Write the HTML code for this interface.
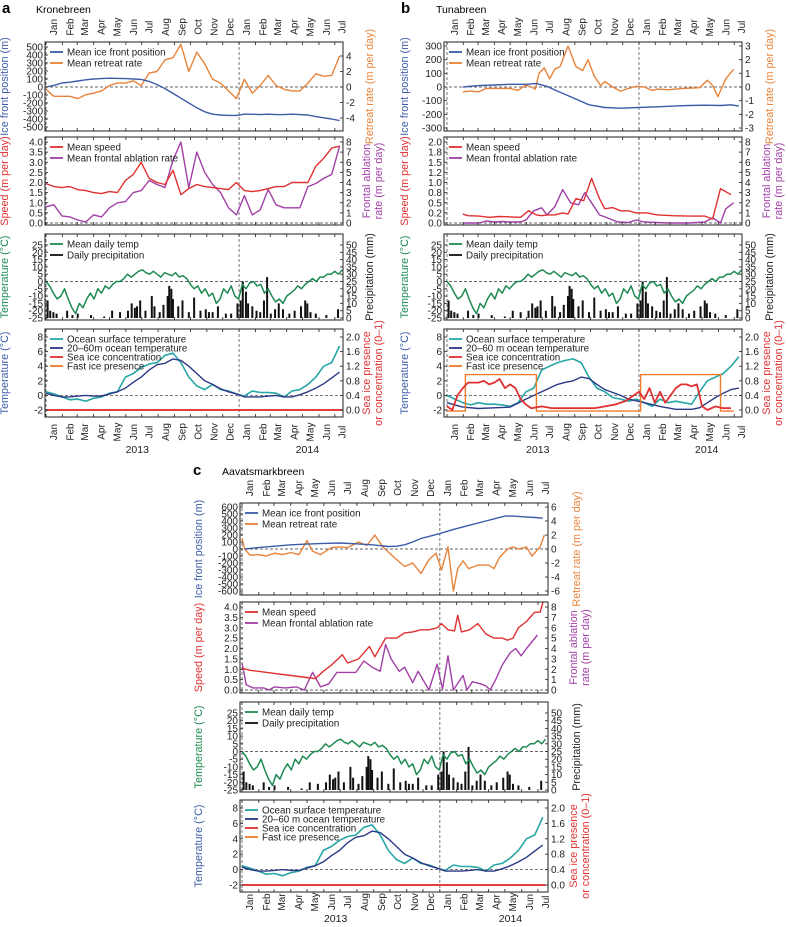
<!DOCTYPE html>
<html><head><meta charset="utf-8"><style>
html,body{margin:0;padding:0;background:#fff;}
svg{display:block;font-family:"Liberation Sans",sans-serif;}
</style></head><body>
<svg id="fig" width="788" height="927" viewBox="0 0 788 927" xmlns="http://www.w3.org/2000/svg"></svg>
<script>
const months=['Jan','Feb','Mar','Apr','May','Jun','Jul','Aug','Sep','Oct','Nov','Dec','Jan','Feb','Mar','Apr','May','Jun','Jul'];
const monthStarts=[0,31,59,90,120,151,181,212,243,273,304,334,365,396,424,455,485,516,546];
const years=['2013','2014'];
const G15=[0,15,30,45,60,75,90,105,120,135,150,165,180,195,210,225,240,255,270,285,300,315,330,345,360,375,390,405,420,435,450,465,480,495,510,525,540,555];
const W7=[0,7,14,21,28,35,42,49,56,63,70,77,84,91,98,105,112,119,126,133,140,147,154,161,168,175,182,189,196,203,210,217,224,231,238,245,252,259,266,273,280,287,294,301,308,315,322,329,336,343,350,357,364,371,378,385,392,399,406,413,420,427,434,441,448,455,462,469,476,483,490,497,504,511,518,525,532,539,546,553,560];
// Kronebreen
const kroFront=[0,20,50,60,75,90,100,105,110,108,105,100,95,70,30,-20,-80,-140,-200,-260,-310,-340,-350,-355,-355,-340,-340,-345,-340,-345,-345,-340,-345,-350,-370,-385,-400,-420];
const kroRetreat=[-0.3,-1.2,-1.2,-1.2,-1.5,-1.0,-0.8,-0.5,0.2,0.5,0.5,0.8,0.2,1.8,2.0,3.5,3.8,5.5,2.0,4.5,3.0,1.0,0.5,-0.5,-1.5,1.0,-0.8,0.2,1.5,0.2,-0.3,-0.5,-0.5,0.5,1.7,1.4,1.5,4.0];
const kroSpeed=[1.95,1.8,1.75,1.8,1.65,1.6,1.5,1.45,1.55,1.5,2.1,2.4,3.0,2.2,2.0,1.9,2.6,1.4,1.7,1.9,1.8,1.75,1.7,1.65,2.0,1.6,1.55,1.6,1.7,1.8,1.8,2.0,2.0,2.0,2.8,3.2,3.7,3.8];
const kroAblation=[1.6,1.8,0.7,0.6,0.3,0.1,0.8,0.6,1.5,2.0,2.1,3.0,3.2,4.2,3.8,3.5,6.2,8.0,3.5,7.0,5.0,3.8,3.0,1.5,0.8,2.7,0.8,1.3,3.3,1.8,1.5,1.5,1.5,3.6,3.9,4.4,4.8,7.6];
// shared weather
const airTemp=[0,-3,-8,-12,-10,-5,-12,-18,-22,-15,-18,-12,-8,-12,-5,-8,-3,-5,-2,0,0,2,5,3,5,7,8,6,5,7,5,3,6,5,4,6,3,4,2,-2,-5,-3,-8,-5,-10,-8,-15,-12,-5,-8,-3,-10,-12,-2,-5,-1,0,-3,-2,-8,-5,-10,-14,-12,-15,-10,-8,-6,-3,-5,-2,0,2,0,3,3,5,5,7,5,8];
const precipDays=[3,8,14,20,40,50,60,85,110,125,140,155,162,168,172,178,188,200,205,215,222,230,233,237,240,250,258,270,280,292,302,308,315,325,340,350,362,368,372,378,382,390,398,405,412,418,425,433,440,448,460,470,482,490,494,500,510,530,552];
const precipVals=[12,5,4,3,5,2,3,2,1,5,4,5,10,7,8,12,5,15,8,4,9,15,22,20,13,8,12,4,14,5,6,4,4,8,3,3,10,12,25,18,10,8,5,4,12,28,3,6,10,6,3,5,8,12,10,4,3,2,6];
// ocean (a & c)
const oceanSurf=[0.5,0.2,-0.2,-0.6,-0.5,-0.8,-0.4,-0.2,0.3,0.5,2.5,3,3.8,4.3,4.5,5.5,5.8,4.5,2.5,1.3,0.8,1.5,0.8,0.6,0.2,-0.1,0.6,0.4,0.4,0.3,-0.2,0.6,0.8,1.5,2.5,4,4.5,6.8];
const oceanDeep=[0.3,0,-0.2,-0.2,-0.1,0,-0.1,-0.1,0.2,0.5,1.0,1.8,2.5,3.5,4.2,4.4,5.0,4.8,4.0,3.0,2.0,1.5,0.9,0.5,0.2,-0.2,-0.2,-0.2,-0.1,0,-0.2,-0.2,0.1,0.5,1.0,1.6,2.4,3.2];
const seaIceDays=[0,560];
const seaIceVals=[0,0];
// Tunabreen
const tunFrontDays=[30,60,90,120,150,170,190,210,240,270,300,330,365,400,430,460,490,520,540,555];
const tunFront=[0,10,15,20,20,25,5,-30,-80,-130,-150,-155,-150,-145,-140,-135,-133,-135,-130,-140];
const tunRetDays=[30,45,60,75,90,105,120,135,150,160,168,175,185,195,205,215,230,245,258,268,280,292,300,315,330,345,360,375,390,400,420,450,480,495,505,515,530,545];
const tunRetreat=[-0.35,-0.3,-0.35,-0.1,-0.1,-0.1,-0.1,-0.25,0.15,0,-0.15,1.0,1.4,0.6,1.3,1.5,3.0,1.5,1.2,2.0,0.8,0.1,0.4,0,-0.3,-0.1,0.05,0,-0.25,-0.15,-0.2,-0.1,-0.05,0.5,0.1,-0.7,0.6,1.3];
const tunSpeedDays=[30,40,60,80,100,120,140,155,170,180,190,205,220,230,245,260,275,290,300,315,330,345,360,380,400,430,460,490,505,520,540];
const tunSpeed=[0.22,0.18,0.17,0.14,0.16,0.15,0.14,0.3,0.2,0.18,0.2,0.2,0.25,0.22,0.6,0.55,1.1,0.6,0.35,0.38,0.3,0.3,0.25,0.25,0.2,0.18,0.17,0.17,0.1,0.85,0.7];
const tunAblDays=[30,60,75,90,105,120,140,150,165,180,190,205,220,235,250,262,275,290,305,325,345,360,375,420,460,490,505,520,530,545];
const tunAblation=[0,0,0.2,0.1,0.15,0.1,0.1,0.3,1.2,1.5,0.8,1.6,3.3,2.0,1.8,3.0,2.0,0.8,0.5,0.1,0.05,0.3,0.1,0,0,0.1,0.5,0,1.4,2.0];
const tunSurf=[0,-0.5,-1.0,-1.3,-1.0,-1.2,-1.2,-1.3,-1.5,-1.0,0.5,1.0,3.5,4,4.5,4.8,5,4.5,2.5,1.0,0.5,-0.3,-0.5,-0.8,-0.5,-1.0,-1.5,-0.5,-1.0,-0.8,-1.0,-1.2,0.5,2.0,2.5,3,4,5.3];
const tunDeepDays=[0,15,30,60,90,120,150,180,210,225,240,255,270,285,300,330,345,375,405,435,465,480,495,510,525,540,555];
const tunDeep=[-1.0,-1.3,-1.6,-1.8,-1.7,-1.6,-0.5,0.5,1.5,1.8,2.0,2.5,2.3,1.5,0.8,0,-0.5,-1.0,-1.5,-1.9,-1.9,-1.7,-1.0,-0.3,0.3,0.8,1.0];
const tunIceDays=[0,10,20,30,40,50,60,70,80,90,100,110,120,130,140,150,160,180,200,220,240,260,280,300,320,340,355,365,375,385,395,405,415,425,435,445,455,465,475,485,495,510,525,540];
const tunIce=[0.1,0.0,0.4,0.6,0.75,0.75,0.75,0.8,0.7,0.75,0.85,0.6,0.7,0.6,0.3,0.15,0.05,0.1,0.05,0.05,0.05,0.05,0.05,0.1,0.15,0.25,0.4,0.5,0.3,0.6,0.2,0.5,0.2,0.4,0.6,0.7,0.7,0.65,0.7,0.1,0.0,0.1,0.05,0.05];
const tunFastDays=[0,35,35,170,170,368,368,520,520,545];
const tunFast=[-0.03,-0.03,0.97,0.97,-0.03,-0.03,0.97,0.97,-0.03,-0.03];
// Aavatsmarkbreen
const aavFrontDays=[5,30,60,90,120,150,180,210,240,270,285,300,315,330,345,365,390,420,450,470,485,500,520,540,555];
const aavFront=[0,20,40,60,70,80,85,75,60,35,40,60,100,150,180,220,280,340,400,440,470,470,460,450,440];
const aavRetDays=[0,5,15,30,45,60,75,90,105,120,130,145,165,180,195,215,230,245,260,275,285,300,315,330,345,358,368,380,390,398,408,418,435,455,465,475,490,500,510,525,535,550,558];
const aavRetreat=[1.5,0,-0.9,-0.8,-1.0,-0.6,-0.8,-0.5,-0.8,1.2,-0.3,-0.8,0.2,0.3,0.2,1.0,0.5,2.0,0.3,-0.8,-1.5,-2.5,-2.0,-3.5,-1.5,-0.6,-3,0.3,-6,-2.8,-1.7,-2.8,-2.3,-2.3,-2.8,-1.2,0,0.3,0,0.3,-1,0.3,2.0];
const aavSpeedDays=[0,15,30,60,90,120,135,150,165,185,195,215,235,245,265,285,300,315,330,345,360,368,380,392,398,405,420,435,450,465,480,490,500,510,525,540,550,556];
const aavSpeed=[1.05,0.95,0.9,0.8,0.7,0.6,0.55,0.9,1.2,1.7,1.3,1.5,2.1,1.6,2.5,2.5,2.75,2.8,2.9,2.9,3.0,3.2,2.9,2.85,3.6,2.8,2.9,3.2,2.7,2.5,2.5,2.4,2.5,3.0,3.3,3.75,3.75,4.3];
const aavAblDays=[0,8,20,40,50,60,80,100,115,130,145,160,175,210,225,240,255,265,275,290,300,315,325,345,360,370,380,390,400,408,415,425,440,450,458,468,480,495,505,515,525,545];
const aavAblation=[2.6,0.5,0.2,0.2,0,0.3,0.2,0.3,0,1.7,0.3,0.6,1.7,1.7,2.8,2.2,1.8,4.4,3.0,1.8,2.2,0.7,1.8,0,2.5,0.1,3.3,0,0.8,1.4,0,0.8,0.6,0.4,0,1.0,2.4,3.6,4.0,3.3,4.0,5.3];

const NS='http://www.w3.org/2000/svg';
const svg=document.getElementById('fig');
function add(parent,tag,attrs,txt){const e=document.createElementNS(NS,tag);for(const k in attrs)e.setAttribute(k,attrs[k]);if(txt!==undefined)e.textContent=txt;parent.appendChild(e);return e;}
function lin(v1,p1,v2,p2){return v=>p1+(v-v1)*(p2-p1)/(v2-v1);}
const C={blue:'#3d5ca8',orange:'#e8833a',red:'#e03030',purple:'#a13fa6',green:'#1d8a52',black:'#111',teal:'#27a6a6',navy:'#2b3886',fast:'#ee7b2a'};

function drawPanel(P){
  const g=add(svg,'g',{});
  
  
  const xs=d=>P.x0+d*P.k;
  const t1=add(g,'text',{x:P.letterX,y:P.letterY,'font-size':15,'font-weight':'bold'},P.id);
  
  
  const t2=add(g,'text',{x:P.titleX,y:P.letterY,'font-size':10.5},P.title);
  
  
  P.rows.forEach((R,ri)=>{
    const rg=add(g,'g',{});
    
    
    const yl=lin(R.L[0],R.L[1],R.L[2],R.L[3]);
    const yr=lin(R.R[0],R.R[1],R.R[2],R.R[3]);
    const clipId='c'+P.id+ri;
    const cp=add(rg,'clipPath',{id:clipId});
    add(cp,'rect',{x:P.xl,y:R.top,width:P.xr-P.xl,height:R.bot-R.top});
    [0,365].forEach(d=>{
      const v=add(rg,'line',{x1:xs(d),x2:xs(d),y1:R.top,y2:R.bot,stroke:'#666','stroke-width':0.9,'stroke-dasharray':'3,2'});
      
      
    });
    const hz=add(rg,'line',{x1:P.xl,x2:P.xr,y1:yl(0),y2:yl(0),stroke:'#666','stroke-width':0.9,'stroke-dasharray':'3,2'});
    
    
    const sg=add(rg,'g',{'clip-path':'url(#'+clipId+')'});
    R.series.forEach(S=>{
      const ys=S.axis==='R'?yr:yl;
      if(S.bars){
        S.days.forEach((d,i)=>{
          const b=add(sg,'rect',{x:xs(d)-1,y:ys(S.vals[i]),width:2,height:Math.max(0,ys(0)-ys(S.vals[i])),fill:S.color});
          
          
        });
      } else {
        const pts=S.days.map((d,i)=>xs(d).toFixed(1)+','+ys(S.vals[i]).toFixed(1)).join(' ');
        const pl=add(sg,'polyline',{points:pts,fill:'none',stroke:S.color,'stroke-width':S.w||1.4,'stroke-linejoin':'round'});
        
        
      }
    });
    const fr=add(rg,'rect',{x:P.xl,y:R.top,width:P.xr-P.xl,height:R.bot-R.top,fill:'none',stroke:'#333','stroke-width':1.1});
    
    
    monthStarts.forEach(d=>{
      const x=xs(d);
      if(x<P.xl||x>P.xr)return;
      const a=add(rg,'line',{x1:x,x2:x,y1:R.top,y2:R.top+3,stroke:'#333','stroke-width':0.9});
      
      
      const b=add(rg,'line',{x1:x,x2:x,y1:R.bot,y2:R.bot-3,stroke:'#333','stroke-width':0.9});
      
      
    });
    R.Lticks.forEach((v,i)=>{
      const y=yl(v);
      const tk=add(rg,'line',{x1:P.xl,x2:P.xl+3,y1:y,y2:y,stroke:'#333','stroke-width':0.9});
      
      
      const tx=add(rg,'text',{x:P.xl-2,y:y+3.5,'font-size':10,'text-anchor':'end',fill:'#222'},R.Llabels?R.Llabels[i]:String(v));
      
      
    });
    R.Rticks.forEach((v,i)=>{
      const y=yr(v);
      const tk=add(rg,'line',{x1:P.xr,x2:P.xr-3,y1:y,y2:y,stroke:'#333','stroke-width':0.9});
      
      
      const tx=add(rg,'text',{x:P.xr+3,y:y+3.5,'font-size':10,fill:'#222'},R.Rlabels?R.Rlabels[i]:String(v));
      
      
    });
    const cy=(R.top+R.bot)/2;
    const lt=add(rg,'text',{x:0,y:0,'font-size':10.8,'text-anchor':'middle',fill:R.Lcolor,transform:`translate(${P.lx},${cy}) rotate(-90)`},R.Ltitle);
    
    
    R.Rtitle.forEach((s,j)=>{
      const xx=P.rx+j*12-(R.Rtitle.length-1)*3;
      const rt=add(rg,'text',{x:0,y:0,'font-size':10.8,'text-anchor':'middle',fill:R.Rcolor,transform:`translate(${xx},${cy}) rotate(-90)`},s);
      
      
    });
    R.legend.forEach((L,j)=>{
      const y=R.top+10+j*R.lstep;
      const ln=add(rg,'line',{x1:P.xl+5,x2:P.xl+18,y1:y,y2:y,stroke:L[1],'stroke-width':1.8});
      
      
      const lt2=add(rg,'text',{x:P.xl+22,y:y+3.4,'font-size':9.8,fill:'#222'},L[0]);
      
      
    });
  });
  months.forEach((m,i)=>{
    const x=xs(monthStarts[i]+14);
    [P.mTop,P.mBot].forEach(yy=>{
      const t=add(g,'text',{x:0,y:0,'font-size':10,'text-anchor':'middle',fill:'#222',transform:`translate(${x+3.5},${yy}) rotate(-90)`},m);
      
      
    });
  });
  years.forEach((yv,i)=>{
    const t=add(g,'text',{x:xs(182+i*365)+(i?-28:-5),y:P.yearY,'font-size':10.5,'text-anchor':'middle',fill:'#222'},yv);
    
    
  });
}

function rng(a,b,s){const r=[];for(let v=a;v<=b+1e-9;v+=s)r.push(Math.round(v*100)/100);return r;}
function fx(arr,n){return arr.map(v=>v.toFixed(n));}

function weatherRow(top,bot,name){
  return {name:name,top:top,bot:bot,L:[25,top+11,-25,bot-2],R:[50,top+11,0,bot-2],
    Lticks:rng(-25,25,5),Rticks:rng(0,50,5),Ltitle:'Temperature (°C)',Lcolor:C.green,Rtitle:['Precipitation (mm)'],Rcolor:'#222',lstep:11,
    legend:[['Mean daily temp',C.green],['Daily precipitation',C.black]],
    series:[{bars:true,days:precipDays,vals:precipVals,color:C.black,axis:'R'},{name:'air-temp-line',days:W7,vals:airTemp,color:C.green,w:1.5}]};
}
function oceanRow(top,bot,name,surf,deepD,deep,iceD,ice,fastD,fast,depthLbl){
  const sr=[{name:'ocean-surface-line',days:G15,vals:surf,color:C.teal,w:1.6},{name:'ocean-deep-line',days:deepD,vals:deep,color:C.navy},
    {name:'fast-ice-line',days:fastD,vals:fast,color:C.fast,axis:'R'},
    {name:'sea-ice-line',days:iceD,vals:ice,color:C.red,axis:'R',w:1.8}];
  return {name:name,top:top,bot:bot,L:[8,top+8,-2,bot-7],R:[2,top+8,0,bot-7],
    Lticks:rng(-2,8,2),Rticks:rng(0,2,0.4),Rlabels:fx(rng(0,2,0.4),1),Ltitle:'Temperature (°C)',Lcolor:C.blue,Rtitle:['Sea ice presence','or concentration (0–1)'],Rcolor:C.red,lstep:9,
    legend:[['Ocean surface temperature',C.teal],[depthLbl,C.navy],['Sea ice concentration',C.red],['Fast ice presence',C.fast]],series:sr};
}

drawPanel({id:'a',title:'Kronebreen',letterX:2,titleX:36,letterY:13,x0:46,k:0.529,xl:45,xr:343,lx:8,rx:373,mTop:27,mBot:432,yearY:453,
 rows:[
  {name:'front-row',top:42,bot:131,L:[500,47,-500,127],R:[4,56,-4,118],Lticks:rng(-500,500,100),Rticks:[-4,-2,0,2,4],Ltitle:'Ice front position (m)',Lcolor:C.blue,Rtitle:['Retreat rate (m per day)'],Rcolor:C.orange,lstep:11,
   legend:[['Mean ice front position',C.blue],['Mean retreat rate',C.orange]],
   series:[{name:'retreat-rate-line',days:G15,vals:kroRetreat,color:C.orange,axis:'R'},{name:'ice-front-line',days:G15,vals:kroFront,color:C.blue}]},
  {name:'speed-row',top:137,bot:225,L:[4,142,0,223],R:[8,142,0,223],Lticks:rng(0,4,0.5),Llabels:fx(rng(0,4,0.5),1),Rticks:rng(0,8,1),Ltitle:'Speed (m per day)',Lcolor:C.red,Rtitle:['Frontal ablation','rate (m per day)'],Rcolor:C.purple,lstep:11,
   legend:[['Mean speed',C.red],['Mean frontal ablation rate',C.purple]],
   series:[{name:'ablation-line',days:G15,vals:kroAblation,color:C.purple,axis:'R'},{name:'speed-line',days:G15,vals:kroSpeed,color:C.red}]},
  weatherRow(234,320,'weather-row'),
  oceanRow(329,417,'ocean-row',oceanSurf,G15,oceanDeep,seaIceDays,seaIceVals,seaIceDays,seaIceVals,'20–60m ocean temperature')
 ]});

drawPanel({id:'b',title:'Tunabreen',letterX:401,titleX:436,letterY:13,x0:447,k:0.526,xl:444,xr:742,lx:408,rx:773,mTop:27,mBot:432,yearY:453,
 rows:[
  {name:'front-row',top:42,bot:131,L:[300,46,-300,128],R:[3,46,-3,128],Lticks:rng(-300,300,100),Rticks:rng(-3,3,1),Ltitle:'Ice front position (m)',Lcolor:C.blue,Rtitle:['Retreat rate (m per day)'],Rcolor:C.orange,lstep:11,
   legend:[['Mean ice front position',C.blue],['Mean retreat rate',C.orange]],
   series:[{name:'retreat-rate-line',days:tunRetDays,vals:tunRetreat,color:C.orange,axis:'R'},{name:'ice-front-line',days:tunFrontDays,vals:tunFront,color:C.blue}]},
  {name:'speed-row',top:137,bot:225,L:[2,142,0,223],R:[8,142,0,223],Lticks:rng(0,2,0.25),Llabels:['0.0','0.2','0.5','0.8','1.0','1.2','1.5','1.8','2.0'],Rticks:rng(0,8,1),Ltitle:'Speed (m per day)',Lcolor:C.red,Rtitle:['Frontal ablation','rate (m per day)'],Rcolor:C.purple,lstep:11,
   legend:[['Mean speed',C.red],['Mean frontal ablation rate',C.purple]],
   series:[{name:'ablation-line',days:tunAblDays,vals:tunAblation,color:C.purple,axis:'R'},{name:'speed-line',days:tunSpeedDays,vals:tunSpeed,color:C.red}]},
  weatherRow(234,320,'weather-row'),
  oceanRow(329,417,'ocean-row',tunSurf,tunDeepDays,tunDeep,tunIceDays,tunIce,tunFastDays,tunFast,'20–60 m ocean temperature')
 ]});

drawPanel({id:'c',title:'Aavatsmarkbreen',letterX:193,titleX:222,letterY:475,x0:242,k:0.542,xl:240,xr:548,lx:202,rx:580,mTop:488,mBot:902,yearY:922,
 rows:[
  {name:'front-row',top:503,bot:595,L:[600,507,-600,591],R:[6,507,-6,591],Lticks:rng(-600,600,100),Rticks:rng(-6,6,2),Ltitle:'Ice front position (m)',Lcolor:C.blue,Rtitle:['Retreat rate (m per day)'],Rcolor:C.orange,lstep:11,
   legend:[['Mean ice front position',C.blue],['Mean retreat rate',C.orange]],
   series:[{name:'retreat-rate-line',days:aavRetDays,vals:aavRetreat,color:C.orange,axis:'R'},{name:'ice-front-line',days:aavFrontDays,vals:aavFront,color:C.blue}]},
  {name:'speed-row',top:602,bot:693,L:[4,607,0,690],R:[8,607,0,690],Lticks:rng(0,4,0.5),Llabels:fx(rng(0,4,0.5),1),Rticks:rng(0,8,1),Ltitle:'Speed (m per day)',Lcolor:C.red,Rtitle:['Frontal ablation','rate (m per day)'],Rcolor:C.purple,lstep:11,
   legend:[['Mean speed',C.red],['Mean frontal ablation rate',C.purple]],
   series:[{name:'ablation-line',days:aavAblDays,vals:aavAblation,color:C.purple,axis:'R'},{name:'speed-line',days:aavSpeedDays,vals:aavSpeed,color:C.red}]},
  weatherRow(702,792,'weather-row'),
  oceanRow(800,892,'ocean-row',oceanSurf,G15,oceanDeep,seaIceDays,seaIceVals,seaIceDays,seaIceVals,'20–60 m ocean temperature')
 ]});
</script>
</body></html>
